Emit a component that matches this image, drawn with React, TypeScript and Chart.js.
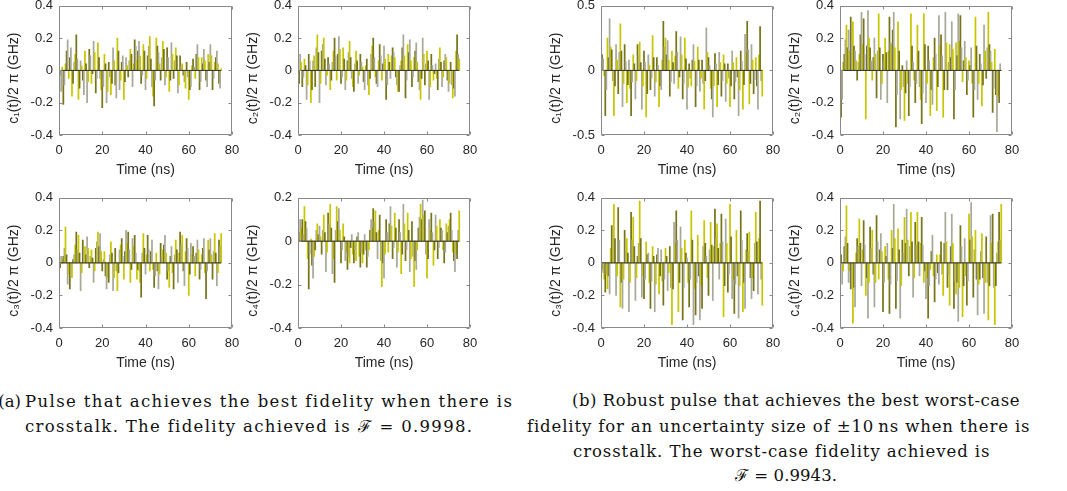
import React, { useEffect, useLayoutEffect, useRef } from "react";
import { Chart, registerables } from "chart.js";

Chart.register(...registerables);

// ---------- data (sample every 0.5 ns, 0 … 75 ns) ----------
const TIME_NS = [
  0, 0.5, 1, 1.5, 2, 2.5, 3, 3.5, 4, 4.5, 5, 5.5, 6, 6.5, 7, 7.5, 8, 8.5, 9, 9.5,
  10, 10.5, 11, 11.5, 12, 12.5, 13, 13.5, 14, 14.5, 15, 15.5, 16, 16.5, 17, 17.5, 18, 18.5, 19, 19.5,
  20, 20.5, 21, 21.5, 22, 22.5, 23, 23.5, 24, 24.5, 25, 25.5, 26, 26.5, 27, 27.5, 28, 28.5, 29, 29.5,
  30, 30.5, 31, 31.5, 32, 32.5, 33, 33.5, 34, 34.5, 35, 35.5, 36, 36.5, 37, 37.5, 38, 38.5, 39, 39.5,
  40, 40.5, 41, 41.5, 42, 42.5, 43, 43.5, 44, 44.5, 45, 45.5, 46, 46.5, 47, 47.5, 48, 48.5, 49, 49.5,
  50, 50.5, 51, 51.5, 52, 52.5, 53, 53.5, 54, 54.5, 55, 55.5, 56, 56.5, 57, 57.5, 58, 58.5, 59, 59.5,
  60, 60.5, 61, 61.5, 62, 62.5, 63, 63.5, 64, 64.5, 65, 65.5, 66, 66.5, 67, 67.5, 68, 68.5, 69, 69.5,
  70, 70.5, 71, 71.5, 72, 72.5, 73, 73.5, 74, 74.5, 75,
];
const BASELINE_X = [0, 75];
const X_TICKS = [0, 20, 40, 60, 80];

// (a) best-fidelity pulse
const A_C1 = [
  -0.07, -0.03, -0.13, 0.02, -0.21, -0.09, 0.04, 0.12, 0.19, -0.05,
  0.08, 0.14, -0.16, -0.08, 0.05, 0.1, 0.22, 0.07, -0.18, -0.11,
  0.06, 0.03, -0.06, -0.15, 0.12, 0.04, -0.2, -0.07, 0.13, 0.09,
  -0.08, -0.02, 0.18, 0.11, -0.14, -0.05, 0.17, 0.08, -0.05, -0.12,
  -0.23, -0.1, 0.1, 0.04, -0.2, -0.13, 0.05, -0.04, -0.15, -0.08,
  0.14, 0.06, -0.09, -0.17, 0.2, 0.12, -0.12, -0.06, 0.05, 0.09,
  -0.18, -0.07, 0.08, 0.03, -0.04, 0.06, 0.13, 0.1, -0.1, 0.04,
  0.19, 0.15, 0.06, 0.12, 0.18, 0.09, -0.08, -0.03, 0.16, 0.12,
  -0.12, -0.05, 0.09, 0.15, 0.21, 0.07, -0.1, -0.16, -0.22, -0.06,
  0.2, 0.15, 0.11, 0.04, -0.06, 0.08, 0.18, 0.13, -0.09, -0.04,
  0.14, 0.08, -0.13, -0.06, 0.17, 0.1, -0.05, 0.06, 0.14, 0.09,
  -0.14, -0.09, 0.09, 0.03, 0.04, -0.03, -0.07, -0.11, 0.05, -0.04,
  -0.18, -0.12, -0.1, 0.03, 0.07, 0.02, -0.05, 0.1, 0.16, 0.08,
  -0.12, -0.07, 0.08, 0.04, 0.13, 0.06, -0.06, -0.1, 0.1, 0.05,
  0.16, 0.09, -0.12, -0.05, 0.05, 0.08, 0.12, 0.04, -0.08, -0.11,
  0.01,
];
const A_C2 = [
  -0.17, -0.08, 0.1, 0.05, -0.1, -0.04, 0.07, 0.03, -0.18, -0.09,
  0.1, 0.06, -0.2, -0.12, 0.06, 0.09, -0.1, 0.14, 0.22, 0.11,
  -0.2, -0.08, 0.12, 0.16, 0.2, 0.07, -0.09, -0.03, 0.08, 0.04,
  -0.12, -0.06, 0.05, 0.12, 0.2, 0.09, -0.06, 0.1, 0.21, 0.13,
  -0.08, -0.04, 0.14, 0.07, -0.12, -0.06, 0.06, 0.11, 0.18, 0.08,
  -0.05, -0.1, -0.13, 0.04, 0.12, 0.06, -0.08, -0.03, 0.1, 0.05,
  0.02, -0.07, -0.12, 0.03, 0.07, -0.09, -0.15, -0.05, 0.1, 0.15,
  0.2, 0.08, -0.04, -0.08, -0.1, 0.06, 0.16, 0.09, -0.06, 0.04,
  0.15, 0.07, -0.18, -0.09, 0.1, 0.05, -0.05, 0.09, 0.14, 0.11,
  0.08, -0.04, -0.09, -0.13, -0.13, 0.03, 0.06, 0.14, 0.22, 0.09,
  -0.17, -0.06, 0.16, 0.11, 0.19, 0.06, -0.1, -0.04, 0.08, 0.12,
  0.17, 0.05, -0.07, -0.12, -0.18, -0.05, 0.2, 0.1, -0.09, 0.04,
  0.12, 0.06, -0.18, -0.1, 0.1, 0.03, -0.06, -0.02, 0.04, -0.05,
  -0.12, 0.07, 0.14, 0.05, -0.1, -0.04, 0.06, 0.1, 0.08, -0.06,
  -0.13, -0.08, 0.05, -0.09, -0.17, -0.11, -0.16, 0.12, 0.22, 0.1,
  0.07,
];
const A_C3 = [
  0.06, -0.03, 0.04, 0.02, 0.04, 0.09, 0.22, 0.05, -0.13, -0.07,
  -0.16, -0.08, -0.09, 0.02, 0.05, 0.11, 0.19, 0.08, 0.17, 0.06,
  -0.17, -0.06, 0.14, 0.07, 0.1, 0.05, 0.16, 0.09, -0.03, 0.04,
  0.08, 0.03, -0.12, -0.05, 0.09, 0.13, 0.19, 0.1, 0.18, 0.07,
  -0.05, 0.02, 0.07, -0.08, -0.16, -0.09, -0.12, 0.05, 0.13, 0.06,
  -0.17, -0.09, 0.09, -0.05, -0.17, -0.06, 0.08, 0.11, 0.15, 0.04,
  -0.1, 0.07, 0.2, 0.12, 0.19, 0.08, -0.12, -0.04, 0.15, 0.1,
  0.17, 0.06, -0.1, -0.04, -0.05, -0.12, -0.21, 0.06, 0.18, 0.09,
  -0.07, 0.05, 0.17, 0.08, -0.05, 0.07, 0.14, -0.04, -0.15, -0.08,
  0.06, -0.05, -0.16, -0.07, 0.12, 0.04, 0.08, 0.11, 0.17, 0.06,
  -0.1, -0.05, -0.15, 0.04, 0.1, -0.06, -0.16, 0.05, 0.14, 0.08,
  -0.12, 0.06, 0.19, 0.11, 0.17, -0.05, -0.14, 0.07, 0.15, 0.09,
  -0.2, -0.07, 0.12, 0.05, 0.1, 0.04, -0.08, 0.06, 0.14, 0.08,
  -0.1, -0.04, 0.05, 0.09, 0.15, -0.06, -0.22, -0.05, 0.14, 0.08,
  0.15, 0.05, -0.1, 0.07, 0.18, 0.06, -0.14, -0.06, 0.14, 0.1,
  0.18,
];
const A_C4 = [
  -0.15, 0.04, 0.1, 0.06, 0.1, 0.03, 0.16, 0.09, 0.06, -0.08,
  -0.22, -0.06, 0.01, -0.11, -0.17, -0.07, -0.04, 0.05, 0.08, 0.03,
  0.07, 0.02, -0.06, 0.05, 0.12, 0.04, -0.14, -0.05, 0.13, 0.08,
  0.17, 0.06, -0.15, -0.08, -0.19, 0.05, 0.16, 0.09, 0.15, 0.05,
  -0.1, -0.04, 0.08, 0.02, -0.09, -0.05, -0.13, -0.07, -0.1, -0.03,
  0.03, -0.06, -0.1, -0.04, -0.09, 0.02, 0.04, -0.07, -0.12, -0.05,
  -0.1, -0.06, 0.03, -0.04, -0.12, -0.07, -0.04, 0.05, 0.1, 0.06,
  0.15, 0.09, 0.14, 0.04, -0.08, 0.05, 0.12, -0.09, -0.21, -0.1,
  -0.17, -0.06, 0.1, 0.04, -0.05, 0.08, 0.16, 0.07, -0.08, -0.03,
  0.13, 0.06, -0.12, -0.05, 0.1, 0.04, -0.15, -0.06, 0.17, 0.08,
  -0.09, -0.04, 0.13, 0.05, -0.14, -0.08, 0.09, -0.07, -0.21, -0.09,
  -0.13, -0.04, 0.06, 0.11, 0.17, 0.1, 0.19, 0.12, 0.14, -0.06,
  -0.17, -0.08, 0.1, 0.05, 0.13, 0.04, -0.11, -0.04, 0.12, 0.07,
  -0.08, -0.03, 0.1, 0.06, 0.05, -0.04, -0.1, -0.05, 0.08, 0.04,
  0.07, 0.1, 0.13, 0.05, -0.05, -0.09, -0.14, -0.06, -0.08, 0.05,
  0.14,
];

// (b) robust pulse
const B_C1 = [
  0.28, 0.12, 0.09, -0.04, -0.35, -0.15, 0.25, 0.1, 0.4, 0.18,
  0.16, -0.08, -0.35, -0.12, 0.2, 0.08, -0.18, 0.14, 0.36, 0.15,
  -0.28, -0.1, 0.2, 0.07, -0.25, -0.11, 0.08, -0.14, -0.35, -0.09,
  0.12, 0.05, -0.22, -0.08, 0.2, 0.11, 0.22, 0.06, -0.3, -0.12,
  0.15, 0.06, -0.36, -0.18, 0.12, 0.04, -0.15, -0.06, 0.27, 0.1,
  -0.2, -0.09, 0.1, 0.04, -0.28, -0.12, -0.15, 0.08, 0.38, 0.18,
  0.25, 0.12, 0.23, 0.08, -0.2, -0.09, 0.15, 0.06, -0.1, 0.11,
  0.3, 0.14, -0.14, -0.05, 0.26, 0.12, -0.22, -0.1, 0.25, 0.09,
  -0.3, -0.13, 0.05, -0.06, -0.12, 0.08, 0.2, 0.07, -0.28, -0.12,
  0.18, 0.08, -0.16, -0.06, 0.08, -0.1, -0.3, -0.08, 0.33, 0.14,
  0.1, 0.04, -0.14, -0.22, -0.36, -0.12, 0.13, 0.05, -0.28, -0.11,
  0.14, 0.06, -0.2, -0.08, 0.12, 0.05, -0.24, -0.1, 0.05, -0.06,
  -0.28, -0.12, 0.15, 0.06, -0.22, -0.09, 0.1, -0.05, -0.35, -0.15,
  0.15, 0.07, -0.3, -0.11, 0.28, 0.14, 0.38, 0.16, -0.26, -0.1,
  0.2, 0.08, -0.18, -0.07, 0.1, -0.12, -0.3, 0.12, 0.34, -0.08,
  -0.2,
];
const B_C2 = [
  -0.03, -0.29, -0.18, 0.05, 0.1, 0.19, 0.28, 0.14, 0.25, 0.12,
  0.33, 0.18, 0.3, 0.15, 0.12, 0.06, -0.06, 0.05, 0.1, 0.22,
  0.36, 0.16, 0.32, 0.1, -0.3, 0.15, 0.37, 0.2, 0.14, 0.06,
  -0.06, 0.08, 0.2, 0.1, -0.17, 0.12, 0.35, 0.14, -0.18, -0.08,
  0.1, 0.06, 0.2, 0.11, -0.2, 0.12, 0.33, 0.17, 0.16, 0.25,
  0.36, 0.14, -0.35, -0.15, 0.3, 0.12, -0.3, -0.12, 0.03, -0.1,
  -0.31, -0.14, 0.06, -0.08, -0.28, -0.1, 0.35, 0.15, 0.05, -0.06,
  -0.2, -0.08, 0.28, 0.12, -0.1, -0.18, -0.33, -0.14, 0.35, 0.16,
  -0.2, -0.08, 0.15, 0.06, -0.28, -0.12, -0.21, 0.08, 0.2, 0.1,
  -0.25, -0.1, 0.34, 0.15, 0.22, 0.09, -0.29, -0.12, 0.36, 0.17,
  -0.12, 0.05, 0.16, 0.08, 0.3, 0.13, -0.3, -0.12, 0.17, 0.09,
  0.35, 0.18, 0.34, 0.14, -0.07, 0.06, 0.18, 0.08, -0.15, -0.06,
  0.06, 0.03, 0.14, -0.08, -0.29, -0.12, 0.33, 0.15, -0.18, -0.08,
  0.1, 0.04, -0.22, -0.09, 0.28, 0.12, -0.05, 0.14, 0.36, 0.16,
  0.12, 0.05, -0.26, -0.11, 0.13, -0.15, -0.38, -0.16, -0.2, 0.04,
  0.0,
];
const B_C3 = [
  0.2, -0.04, -0.06, -0.1, -0.18, -0.07, -0.16, -0.08, -0.19, 0.09,
  0.23, 0.12, 0.36, 0.15, -0.2, -0.08, 0.34, 0.14, -0.27, -0.12,
  -0.28, -0.1, 0.2, 0.08, 0.15, 0.06, -0.3, -0.12, 0.31, 0.14,
  0.28, 0.1, -0.23, -0.09, 0.04, 0.12, 0.38, 0.15, -0.21, -0.08,
  -0.22, -0.1, 0.13, 0.05, 0.06, -0.12, -0.28, -0.11, 0.1, 0.04,
  -0.3, -0.13, 0.05, 0.09, -0.19, -0.08, 0.08, -0.11, -0.26, -0.1,
  0.09, 0.04, -0.17, -0.06, 0.1, -0.15, -0.38, -0.16, 0.25, 0.12,
  0.32, 0.14, -0.3, -0.12, 0.22, 0.09, -0.35, -0.15, 0.14, 0.06,
  0.03, -0.12, -0.27, -0.1, 0.32, 0.14, -0.38, -0.16, -0.32, -0.12,
  0.17, -0.08, -0.35, -0.14, -0.28, 0.1, 0.26, 0.12, 0.04, -0.09,
  -0.2, 0.08, 0.25, 0.11, -0.23, 0.1, 0.33, 0.15, 0.24, 0.09,
  -0.1, 0.12, 0.3, 0.13, -0.33, -0.14, 0.27, 0.12, -0.18, -0.07,
  0.36, 0.16, -0.22, -0.1, -0.31, -0.13, 0.2, -0.08, -0.34, -0.14,
  0.32, 0.14, -0.3, -0.12, -0.28, 0.08, 0.18, 0.07, 0.19, -0.09,
  -0.22, -0.09, -0.17, 0.12, 0.31, 0.13, -0.19, 0.15, 0.38, -0.1,
  -0.26,
];
const B_C4 = [
  0.13, 0.05, -0.13, -0.05, 0.1, 0.16, 0.35, 0.12, -0.12, -0.05,
  -0.16, -0.08, -0.37, -0.15, -0.27, 0.06, 0.15, 0.1, 0.27, 0.12,
  -0.14, 0.08, 0.26, 0.11, -0.2, -0.09, -0.34, -0.12, 0.22, 0.09,
  0.2, -0.07, -0.27, -0.12, 0.29, 0.13, -0.1, 0.08, 0.18, 0.07,
  -0.3, -0.12, 0.1, 0.04, 0.12, -0.1, -0.31, -0.13, 0.2, 0.09,
  0.36, 0.15, -0.28, -0.11, 0.21, 0.08, -0.34, -0.14, 0.14, 0.06,
  0.28, 0.12, 0.33, 0.14, -0.08, 0.1, 0.31, 0.13, -0.21, -0.09,
  0.25, 0.11, 0.31, 0.13, -0.08, 0.12, 0.28, 0.11, -0.12, -0.05,
  -0.22, -0.09, -0.34, -0.14, -0.04, 0.07, 0.17, -0.08, -0.24, -0.1,
  0.05, -0.06, -0.13, 0.05, 0.13, -0.07, -0.2, 0.12, 0.31, 0.13,
  -0.15, -0.07, -0.26, 0.1, 0.3, 0.12, -0.28, -0.11, -0.19, -0.12,
  -0.36, -0.15, 0.23, 0.1, -0.33, -0.14, 0.15, -0.08, -0.26, -0.11,
  0.3, 0.14, 0.37, 0.16, -0.21, 0.08, 0.2, -0.1, -0.32, -0.13,
  -0.1, 0.07, 0.18, -0.09, -0.31, -0.12, 0.16, -0.12, -0.35, -0.14,
  0.29, 0.12, 0.3, -0.15, -0.38, -0.14, 0.06, 0.13, 0.31, 0.14,
  0.36,
];

const Y_LABELS = [
  "c\u2081(t)/2 \u03c0 (GHz)",
  "c\u2082(t)/2 \u03c0 (GHz)",
  "c\u2083(t)/2 \u03c0 (GHz)",
  "c\u2084(t)/2 \u03c0 (GHz)",
];
const X_LABEL = "Time (ns)";

// ---------- layout (pixel placement of each plot area) ----------
type Panel = {
  values: number[];
  yMin: number;
  yMax: number;
  yStep: number;
  label: string;
  left: number;
  top: number;
  w: number;
  h: number;
};

const PANELS: Panel[] = [
  { values: A_C1, yMin: -0.4, yMax: 0.4, yStep: 0.2, label: Y_LABELS[0], left: 59, top: 4, w: 173, h: 131 },
  { values: A_C2, yMin: -0.4, yMax: 0.4, yStep: 0.2, label: Y_LABELS[1], left: 298, top: 4, w: 172, h: 131 },
  { values: A_C3, yMin: -0.4, yMax: 0.4, yStep: 0.2, label: Y_LABELS[2], left: 59, top: 196, w: 173, h: 132 },
  { values: A_C4, yMin: -0.4, yMax: 0.2, yStep: 0.2, label: Y_LABELS[3], left: 298, top: 196, w: 172, h: 132 },
  { values: B_C1, yMin: -0.5, yMax: 0.5, yStep: 0.5, label: Y_LABELS[0], left: 601, top: 4, w: 172, h: 131 },
  { values: B_C2, yMin: -0.4, yMax: 0.4, yStep: 0.2, label: Y_LABELS[1], left: 840, top: 4, w: 172, h: 131 },
  { values: B_C3, yMin: -0.4, yMax: 0.4, yStep: 0.2, label: Y_LABELS[2], left: 601, top: 196, w: 172, h: 132 },
  { values: B_C4, yMin: -0.4, yMax: 0.4, yStep: 0.2, label: Y_LABELS[3], left: 840, top: 196, w: 172, h: 132 },
];

const Y_AXIS_W = 59;
const PAD_TOP = 12;
const PAD_RIGHT = 22;
const X_AXIS_H = 48;

const BAR_FILLS = ["#c8c600", "#77751a", "#a9a99a"];
const AXIS_COLOR = "#262626";
const BOX_COLOR = "#8a8a8a";
const SANS = "'Liberation Sans', Arial, Helvetica, sans-serif";

const boxPlugin = {
  id: "matlabBox",
  afterDraw(chart: any) {
    const { ctx, chartArea: a } = chart;
    const xs = chart.scales.x;
    const ys = chart.scales.y;
    ctx.save();
    ctx.strokeStyle = BOX_COLOR;
    ctx.lineWidth = 1;
    ctx.beginPath();
    const L = Math.round(a.left) + 0.5;
    const R = Math.round(a.right) - 0.5;
    const T = Math.round(a.top) + 0.5;
    const B = Math.round(a.bottom) - 0.5;
    ctx.rect(L, T, R - L, B - T);
    const tl = 3;
    xs.ticks.forEach((t: any) => {
      const p = Math.round(xs.getPixelForValue(t.value)) + 0.5;
      ctx.moveTo(p, B);
      ctx.lineTo(p, B - tl);
      ctx.moveTo(p, T);
      ctx.lineTo(p, T + tl);
    });
    ys.ticks.forEach((t: any) => {
      const p = Math.round(ys.getPixelForValue(t.value)) + 0.5;
      ctx.moveTo(L, p);
      ctx.lineTo(L + tl, p);
      ctx.moveTo(R, p);
      ctx.lineTo(R - tl, p);
    });
    ctx.stroke();
    ctx.restore();
  },
};

function fmt(v: number) {
  const r = Math.round(v * 100) / 100;
  return r === 0 ? "0" : String(r);
}

function PanelChart({ p }: { p: Panel }) {
  const ref = useRef<HTMLCanvasElement | null>(null);
  const cw = Y_AXIS_W + p.w + PAD_RIGHT;
  const chh = PAD_TOP + p.h + X_AXIS_H;
  useEffect(() => {
    if (!ref.current) return;
    const chart = new Chart(ref.current, {
      type: "bar",
      data: {
        labels: TIME_NS,
        datasets: [
          {
            type: "line",
            data: BASELINE_X.map((x) => ({ x, y: 0 })),
            borderColor: "#2e2e2e",
            borderWidth: 1,
            pointRadius: 0,
            order: 0,
          } as any,
          {
            type: "bar",
            data: p.values,
            backgroundColor: p.values.map((_, i) => BAR_FILLS[i % BAR_FILLS.length]),
            borderWidth: 0,
            barPercentage: 1,
            categoryPercentage: 1,
            order: 1,
          },
        ],
      },
      options: {
        animation: false,
        responsive: false,
        layout: { padding: { top: PAD_TOP, right: PAD_RIGHT, left: 0, bottom: 0 } },
        plugins: { legend: { display: false }, tooltip: { enabled: false } },
        scales: {
          x: {
            type: "linear",
            min: 0,
            max: 80,
            offset: false,
            afterBuildTicks: (s: any) => {
              s.ticks = X_TICKS.map((v) => ({ value: v }));
            },
            ticks: {
              padding: 8,
              color: AXIS_COLOR,
              font: { family: SANS, size: 13 },
              maxRotation: 0,
              autoSkip: false,
              callback: (v: any) => fmt(Number(v)),
            },
            grid: { display: false, drawTicks: false },
            border: { display: false },
            title: {
              display: true,
              text: X_LABEL,
              color: AXIS_COLOR,
              font: { family: SANS, size: 14 },
              padding: { top: 0, bottom: 4 },
            },
            afterFit: (s: any) => {
              s.height = X_AXIS_H;
            },
          },
          y: {
            min: p.yMin,
            max: p.yMax,
            ticks: {
              stepSize: p.yStep,
              padding: 6,
              color: AXIS_COLOR,
              font: { family: SANS, size: 13 },
              callback: (v: any) => fmt(Number(v)),
            },
            grid: { display: false, drawTicks: false },
            border: { display: false },
            title: {
              display: true,
              text: p.label + "    ",
              color: AXIS_COLOR,
              font: { family: SANS, size: 14 },
              padding: { top: 6, bottom: 0 },
            },
            afterFit: (s: any) => {
              s.width = Y_AXIS_W;
            },
          },
        },
      } as any,
      plugins: [boxPlugin],
    });
    return () => chart.destroy();
  }, [p]);
  return (
    <canvas
      ref={ref}
      width={cw}
      height={chh}
      style={{
        position: "absolute",
        left: p.left - Y_AXIS_W,
        top: p.top - PAD_TOP,
        width: cw,
        height: chh,
      }}
    />
  );
}

const SERIF = "'DejaVu Serif', 'Liberation Serif', serif";
const CAP_SIZE = 16.5;

// a caption line stretched (via letter-spacing) to the measured width of the original
function FitLine({ text, left, top, width }: { text: string; left: number; top: number; width: number }) {
  const ref = useRef<HTMLSpanElement | null>(null);
  useLayoutEffect(() => {
    const el = ref.current;
    if (!el) return;
    el.style.letterSpacing = "0px";
    const w = el.getBoundingClientRect().width;
    const n = Array.from(text).length;
    el.style.letterSpacing = `${(width - w) / n}px`;
  }, [text, width]);
  return (
    <span
      ref={ref}
      style={{
        position: "absolute",
        left,
        top,
        fontFamily: SERIF,
        fontSize: CAP_SIZE,
        lineHeight: "20px",
        whiteSpace: "nowrap",
        color: "#111",
      }}
    >
      {text}
    </span>
  );
}

export default function App() {
  return (
    <div
      style={{
        position: "fixed",
        left: 0,
        top: 0,
        width: 1067,
        height: 491,
        overflow: "hidden",
        background: "#fff",
      }}
    >
      {PANELS.map((p, i) => (
        <PanelChart key={i} p={p} />
      ))}
      {/* caption (a) */}
      <div
        style={{
          position: "absolute",
          right: 1067 - 21,
          top: 392,
          fontFamily: SERIF,
          fontSize: CAP_SIZE,
          lineHeight: "20px",
          whiteSpace: "nowrap",
          color: "#111",
        }}
      >
        (a)
      </div>
      <FitLine text="Pulse that achieves the best fidelity when there is" left={25} top={392} width={488} />
      <FitLine text={"crosstalk. The fidelity achieved is \u2131 = 0.9998."} left={25} top={417} width={448} />
      {/* caption (b) */}
      <FitLine text="(b) Robust pulse that achieves the best worst-case" left={572} top={391} width={448} />
      <FitLine text={"fidelity for an uncertainty size of \u00b110\u202fns when there is"} left={527} top={417} width={503} />
      <FitLine text="crosstalk. The worst-case fidelity achieved is" left={573} top={442} width={417} />
      <FitLine text={"\u2131 = 0.9943."} left={735} top={466} width={102} />
    </div>
  );
}
